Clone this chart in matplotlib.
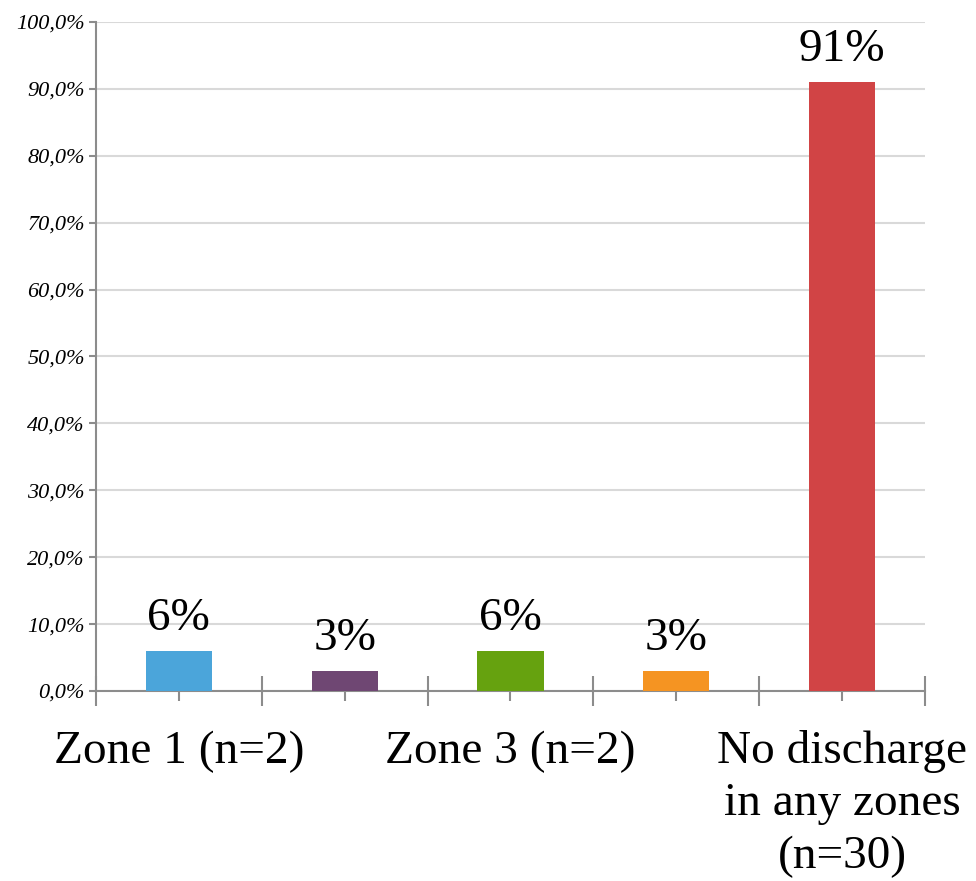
import numpy as np
import matplotlib.pyplot as plt
from matplotlib.ticker import FixedLocator

categories = ["Zone 1 (n=2)", "", "Zone 3 (n=2)", "", "No discharge\nin any zones\n(n=30)"]
values = [6, 3, 6, 3, 91]
value_labels = ["6%", "3%", "6%", "3%", "91%"]
colors = ["#4BA5DA", "#6F4773", "#66A20F", "#F59422", "#D14445"]
y_ticks = [0, 10, 20, 30, 40, 50, 60, 70, 80, 90, 100]
y_tick_labels = ["0,0%", "10,0%", "20,0%", "30,0%", "40,0%", "50,0%",
                 "60,0%", "70,0%", "80,0%", "90,0%", "100,0%"]

plt.rcParams['font.family'] = ['Liberation Serif', 'DejaVu Serif']
axis_gray = "#8C8C8C"

fig = plt.figure(figsize=(9.76, 8.81), dpi=100)
ax = fig.add_axes([0.0984, 0.2157, 0.8493, 0.7593])

x = np.arange(len(values))
ax.bar(x, values, width=0.4, color=colors, zorder=3)

for xi, v, lab in zip(x, values, value_labels):
    ax.annotate(lab, (xi, v), xytext=(0, 15), textcoords="offset points",
                ha="center", va="baseline", fontsize=34)

ax.set_xlim(-0.5, len(values) - 0.5)
ax.set_ylim(0, 100)

ax.set_yticks(y_ticks)
ax.set_yticklabels(y_tick_labels, fontsize=16, style="italic")
ax.yaxis.grid(True, color="#D9D9D9", linewidth=1.5, zorder=0)
ax.tick_params(axis="y", length=5, width=1.5, color=axis_gray, pad=3)

# labels sit under the bars, boundary ticks between categories
ax.set_xticks(x)
ax.set_xticklabels(categories, fontsize=34, linespacing=1.3)
ax.xaxis.set_minor_locator(FixedLocator(np.arange(len(values) + 1) - 0.5))
ax.tick_params(axis="x", which="major", direction="inout", length=14.4,
               width=1.5, color=axis_gray, pad=21)
ax.tick_params(axis="x", which="minor", direction="inout", length=21,
               width=1.5, color=axis_gray)

for side in ["top", "right"]:
    ax.spines[side].set_visible(False)
for side in ["left", "bottom"]:
    ax.spines[side].set_color(axis_gray)
    ax.spines[side].set_linewidth(1.5)

fig.savefig("out.png", dpi=100)
